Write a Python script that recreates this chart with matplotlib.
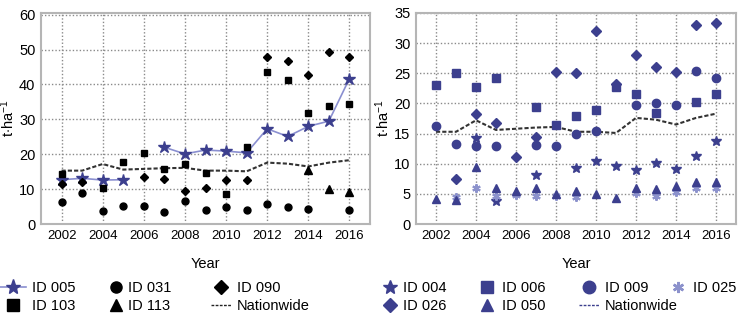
import numpy as np
import matplotlib
matplotlib.use("Agg")
import matplotlib.pyplot as plt
from matplotlib.lines import Line2D

nan = np.nan
years = list(range(2002, 2017))

# Left panel
id005 = [12.7, 13.1, 12.6, 12.7, nan, 22.0, 20.1, 21.2, 20.9, 20.4, 27.3, 25.1, 28.0, 29.5, 41.7]
id031 = [6.2, 8.8, 3.6, 5.2, 5.3, 3.3, 6.6, 4.0, 4.8, 4.0, 5.6, 4.8, 4.3, nan, 4.0]
id090 = [11.6, 12.1, nan, nan, 13.6, 13.0, 9.5, 10.3, 12.6, 12.5, 48.0, 46.6, 42.8, 49.4, 48.0]
id103 = [14.3, nan, 10.2, 17.9, 20.4, 15.7, 17.1, 14.6, 8.6, 22.0, 43.5, 41.4, 31.8, 33.8, 34.4]
id113 = [nan, nan, nan, nan, nan, nan, nan, nan, nan, nan, nan, nan, 15.4, 10.1, 9.3]
nationwide = [15.3, 15.3, 17.2, 15.6, 15.8, 16.0, 16.1, 15.3, 15.3, 15.1, 17.6, 17.3, 16.5, 17.6, 18.3]

# Right panel
id004 = [nan, nan, 14.3, 3.8, nan, 8.2, nan, 9.3, 10.5, 9.7, 9.0, 10.1, 9.1, 11.2, 13.8]
id006 = [23.0, 25.0, 22.8, 24.2, nan, 19.4, 16.4, 17.9, 18.9, 22.7, 21.5, 18.4, nan, 20.3, 21.6]
id009 = [16.2, 13.3, 13.0, 12.9, nan, 13.1, 13.0, 15.0, 15.5, nan, 19.8, 20.0, 19.8, 25.3, 24.3]
id025 = [nan, 4.5, 6.0, 4.6, 4.8, 4.6, 4.6, 4.4, nan, nan, 5.1, 4.6, 5.3, 5.9, 5.9]
id026 = [nan, 7.5, 18.2, 16.8, 11.1, 14.5, 25.2, 25.1, 32.0, 23.3, 28.0, 26.1, 25.2, 33.0, 33.3]
id050 = [4.1, 3.9, 9.4, 5.9, 5.4, 5.9, 5.0, 5.5, 5.0, 4.3, 5.9, 5.8, 6.3, 6.9, 6.9]

xticks = [2002, 2004, 2006, 2008, 2010, 2012, 2014, 2016]

FONT = ['Liberation Sans', 'DejaVu Sans']
plt.rcParams['font.family'] = FONT
plt.rcParams['mathtext.fontset'] = 'custom'
plt.rcParams['mathtext.rm'] = 'Liberation Sans'
plt.rcParams['mathtext.it'] = 'Liberation Sans'

BLUE = '#3c3f8e'
LBLUE = '#8a8fd0'
AST = '#8c92cc'

fig = plt.figure(figsize=(7.5, 3.16), dpi=100)
axL = fig.add_axes([41/750, 1-224/316, 329/750, 211/316])
axR = fig.add_axes([416/750, 1-224/316, 320/750, 211/316])


def style(ax, ymax, yticks, lx):
    ax.set_xlim(2001, 2017)
    ax.set_ylim(0, ymax)
    ax.set_xticks(xticks)
    ax.set_yticks(yticks)
    ax.grid(True, linestyle=(0, (1, 1.5)), color='#8a8a8a', linewidth=1.0)
    ax.set_axisbelow(True)
    for s in ax.spines.values():
        s.set_color('#b5b5b5')
        s.set_linewidth(1.5)
    ax.tick_params(length=0, pad=4)
    for lab in ax.get_xticklabels():
        lab.set_fontsize(9.5)
    for lab in ax.get_yticklabels():
        lab.set_fontsize(10.5)
    ax.set_xlabel('Year', fontsize=10.5, labelpad=11)
    ax.set_ylabel(r't$\cdot$ha$^{-1}$', fontsize=10.5)
    ax.yaxis.set_label_coords(lx, 0.5)


# Left panel drawing
axL.plot(years, nationwide, color='#333333', linestyle=(0, (2, 1)), linewidth=1.5, zorder=3)
axL.plot(years, id005, color=LBLUE, linewidth=1.2, marker='*', markersize=9,
         markerfacecolor=BLUE, markeredgecolor=BLUE, zorder=4)
axL.plot(years, id031, linestyle='none', marker='o', markersize=5, color='black', zorder=4)
axL.plot(years, id090, linestyle='none', marker='D', markersize=4.5, color='black', zorder=4)
axL.plot(years, id103, linestyle='none', marker='s', markersize=5, color='black', zorder=4)
axL.plot(years, id113, linestyle='none', marker='^', markersize=5.5, color='black', zorder=4)
style(axL, 60.5, [0, 10, 20, 30, 40, 50, 60], -0.072)

# Right panel drawing
axR.plot(years, nationwide, color='#333333', linestyle=(0, (2, 1)), linewidth=1.5, zorder=3)
axR.plot(years, id004, linestyle='none', marker='*', markersize=7, color=BLUE, zorder=4)
axR.plot(years, id006, linestyle='none', marker='s', markersize=5.5, color=BLUE, zorder=4)
axR.plot(years, id009, linestyle='none', marker='o', markersize=6, color=BLUE, zorder=4)
axR.plot(years, id025, linestyle='none', marker=(6, 2, 0), markersize=6, color=AST,
         markeredgewidth=1.5, zorder=4)
axR.plot(years, id026, linestyle='none', marker='D', markersize=5, color=BLUE, zorder=4)
axR.plot(years, id050, linestyle='none', marker='^', markersize=6, color=BLUE, zorder=4)
style(axR, 35, [0, 5, 10, 15, 20, 25, 30, 35], -0.075)

# Legends (one per column)
LFS = 10.5
fsz_px = LFS * 100 / 72
HP = 0.4
top = 1 - 281/316


def col_legend(handles, labels, text_x_px, hl=1.2):
    x = (text_x_px - (hl + HP) * fsz_px) / 750
    fig.legend(handles, labels, loc='upper left', bbox_to_anchor=(x, top),
               frameon=False, fontsize=LFS, handlelength=hl, handletextpad=HP,
               borderpad=0, borderaxespad=0, labelspacing=0.3)


h005 = Line2D([], [], color=LBLUE, marker='*', markersize=11, markerfacecolor=BLUE,
              markeredgecolor=BLUE, linewidth=1.2)
h031 = Line2D([], [], linestyle='none', marker='o', markersize=8, color='black')
h090 = Line2D([], [], linestyle='none', marker='D', markersize=7, color='black')
h103 = Line2D([], [], linestyle='none', marker='s', markersize=8, color='black')
h113 = Line2D([], [], linestyle='none', marker='^', markersize=8, color='black')
hnatL = Line2D([], [], color='#222222', linestyle=(0, (2, 1)), linewidth=1.0)

col_legend([h005, h103], ['ID 005', 'ID 103'], 32, hl=1.8)
col_legend([h031, h113], ['ID 031', 'ID 113'], 128, hl=0.8)
col_legend([h090, hnatL], ['ID 090', 'Nationwide'], 237, hl=1.4)

h004 = Line2D([], [], linestyle='none', marker='*', markersize=10, color=BLUE)
h026 = Line2D([], [], linestyle='none', marker='D', markersize=7, color=BLUE)
h006 = Line2D([], [], linestyle='none', marker='s', markersize=9, color=BLUE)
h050 = Line2D([], [], linestyle='none', marker='^', markersize=9, color=BLUE)
h009 = Line2D([], [], linestyle='none', marker='o', markersize=9, color=BLUE)
hnatR = Line2D([], [], color=BLUE, linestyle=(0, (2, 1)), linewidth=1.0)
h025 = Line2D([], [], linestyle='none', marker=(6, 2, 0), markersize=8, color=AST,
              markeredgewidth=1.8)

col_legend([h004, h026], ['ID 004', 'ID 026'], 403, hl=1.0)
col_legend([h006, h050], ['ID 006', 'ID 050'], 502)
col_legend([h009, hnatR], ['ID 009', 'Nationwide'], 605, hl=1.4)
col_legend([h025], ['ID 025'], 693)

fig.savefig('out.png', dpi=100)
